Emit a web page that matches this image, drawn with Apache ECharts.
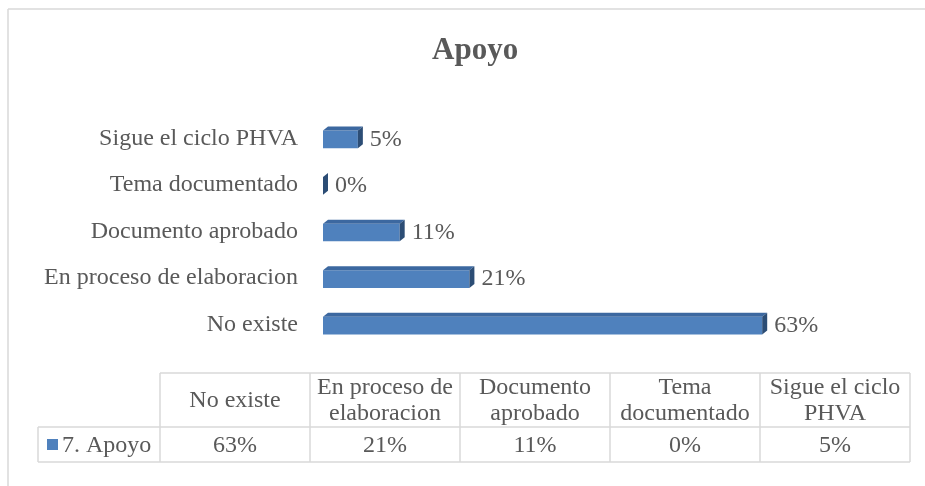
<!DOCTYPE html>
<html>
<head>
<meta charset="utf-8">
<script src="https://cdn.jsdelivr.net/npm/echarts@6/dist/echarts.min.js"></script>
<style>
  html, body { margin: 0; padding: 0; background: #fff; }
  #chart { width: 925px; height: 486px; }
</style>
</head>
<body>
<div id="chart"></div>
<script>
    // datos del grafico
    const categories = ['No existe', 'En proceso de elaboracion', 'Documento aprobado', 'Tema documentado', 'Sigue el ciclo PHVA'];
    const values = [63, 21, 11, 0, 5];
    const tableHeaders = ['No existe', 'En proceso de\nelaboracion', 'Documento\naprobado', 'Tema\ndocumentado', 'Sigue el ciclo\nPHVA'];
    const seriesName = '7. Apoyo';

    const font = 'Liberation Serif';
    const fontSize = 24;
    const textColor = '#595959';
    const lineColor = '#d9d9d9';

    const chart = echarts.init(document.getElementById('chart'));

    // tabla de datos debajo del grafico
    const colX = 160, colW = 150, rowTop = 373, rowMid = 427, rowBot = 462, legendX = 38;
    const table = [];
    const line = (x1, y1, x2, y2) => ({
        type: 'line', shape: { x1: x1, y1: y1, x2: x2, y2: y2 },
        style: { stroke: lineColor, lineWidth: 1.5 }, silent: true
    });
    // marco del area del grafico
    table.push(line(8, 9, 925, 9));
    table.push(line(8, 9, 8, 486));
    table.push(line(colX, rowTop, colX + colW * 5, rowTop));
    table.push(line(legendX, rowMid, colX + colW * 5, rowMid));
    table.push(line(legendX, rowBot, colX + colW * 5, rowBot));
    table.push(line(legendX, rowMid, legendX, rowBot));
    for (let i = 0; i <= 5; i++) {
        table.push(line(colX + colW * i, rowTop, colX + colW * i, rowBot));
    }
    const txtFont = fontSize + 'px "' + font + '"';
    tableHeaders.forEach((h, i) => {
        table.push({
            type: 'text', x: colX + colW * i + colW / 2, y: (rowTop + rowMid) / 2 + 1,
            style: { text: h, fill: textColor, font: txtFont, align: 'center', verticalAlign: 'middle', lineHeight: 26 }
        });
        table.push({
            type: 'text', x: colX + colW * i + colW / 2, y: (rowMid + rowBot) / 2 + 1,
            style: { text: values[i] + '%', fill: textColor, font: txtFont, align: 'center', verticalAlign: 'middle' }
        });
    });
    table.push({
        type: 'rect', shape: { x: 47, y: 439, width: 11, height: 11 }, style: { fill: '#4f81bd' }
    });
    table.push({
        type: 'text', x: 62, y: (rowMid + rowBot) / 2 + 1,
        style: { text: seriesName, fill: textColor, font: txtFont, align: 'left', verticalAlign: 'middle' }
    });

    chart.setOption({
        backgroundColor: '#ffffff',
        animation: false,
        title: {
            text: 'Apoyo',
            left: 432,
            top: 35,
            padding: 0,
            textStyle: { fontFamily: font, fontSize: 31, fontWeight: 'bold', color: textColor }
        },
        grid: { left: 323, right: 114, top: 115, height: 233 },
        xAxis: {
            type: 'value', min: 0, max: 70, show: false
        },
        yAxis: {
            type: 'category',
            data: categories,
            axisLine: { show: false },
            axisTick: { show: false },
            splitLine: { show: false },
            axisLabel: { margin: 25, color: textColor, fontFamily: font, fontSize: fontSize }
        },
        series: [{
            type: 'custom',
            name: seriesName,
            encode: { x: 0, y: 1 },
            data: values.map((v, i) => [v, i]),
            renderItem: function (params, api) {
                const v = api.value(0), i = api.value(1);
                const p0 = api.coord([0, i]), p1 = api.coord([v, i]);
                const h = api.size([0, 1])[1] * 0.38;
                const dx = 5, dy = 4;
                const x0 = p0[0], x1 = p1[0];
                const yT = p0[1] - h / 2 + 1, yB = p0[1] + h / 2 + 1;
                return {
                    type: 'group',
                    children: [
                        { type: 'rect', shape: { x: x0, y: yT, width: x1 - x0, height: h }, style: { fill: '#4f81bd' } },
                        { type: 'polygon', shape: { points: [[x0, yT], [x0 + dx, yT - dy], [x1 + dx, yT - dy], [x1, yT]] }, style: { fill: '#3c68a0' } },
                        { type: 'polygon', shape: { points: [[x1, yT], [x1 + dx, yT - dy], [x1 + dx, yB - dy], [x1, yB]] }, style: { fill: '#2c4d75' } },
                        {
                            type: 'text', x: x1 + dx + 7, y: p0[1] + 1,
                            style: { text: v + '%', fill: textColor, font: txtFont, align: 'left', verticalAlign: 'middle' }
                        }
                    ]
                };
            }
        }],
        graphic: table
    });
</script>
</body>
</html>
